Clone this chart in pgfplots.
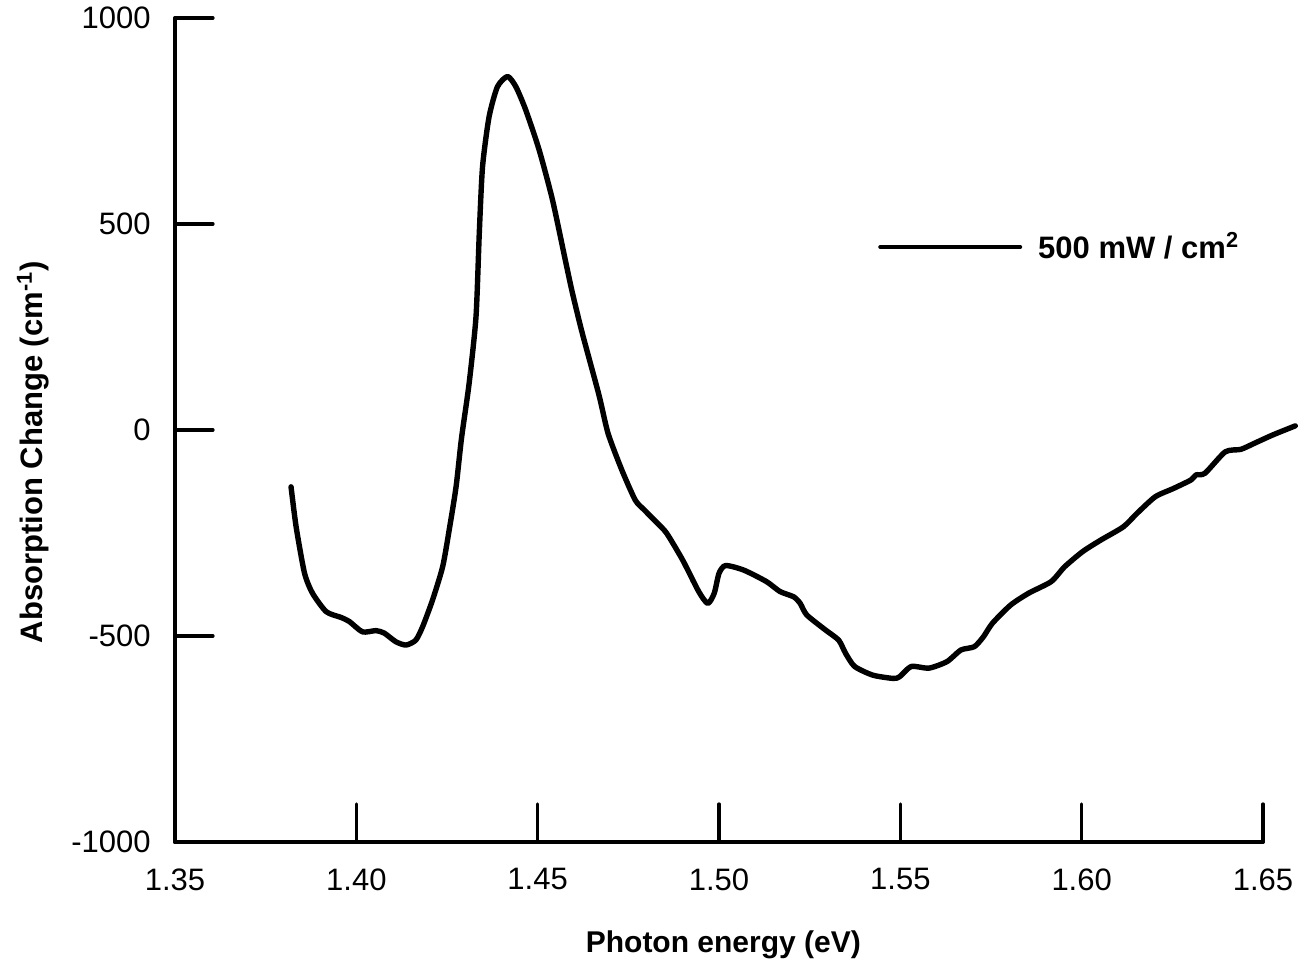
\documentclass[border=0pt]{standalone}
\usepackage{pgfplots}
\pgfplotsset{compat=1.18}
\usepackage{fontspec}
\setmainfont{Liberation Sans}
\begin{document}
\begin{tikzpicture}
\path[use as bounding box] (-87.5pt,-62.5pt) rectangle (566pt,421pt);
\begin{axis}[
  at={(0,0)}, anchor=south west,
  scale only axis, width=544pt, height=412pt,
  xmin=1.35, xmax=1.65, ymin=-1000, ymax=1000,
  clip=false,
  axis lines=left,
  axis line style={-, line width=1.9pt, line cap=round},
  tick align=inside,
  major tick length=19pt,
  tick style={black, line width=1.6pt, line cap=round},
  xtick={1.35,1.40,1.45,1.50,1.55,1.60,1.65},
  xticklabels={1.35,1.40,1.45,1.50,1.55,1.60,1.65},
  ytick={-1000,-500,0,500,1000},
  yticklabels={-1000,-500,0,500,1000},
  ticklabel style={font=\fontsize{15.5}{18}\selectfont},
  xticklabel style={anchor=north, inner sep=0pt, yshift=-13pt},
  yticklabel style={anchor=east, inner sep=0pt, xshift=-12pt},
  xlabel={Photon energy (eV)},
  ylabel={Absorption Change (cm\textsuperscript{-1})},
  xlabel style={at={(axis description cs:0.504,-0.125)}, anchor=center, font=\fontsize{15}{18}\selectfont\bfseries},
  ylabel style={at={(axis description cs:-0.1305,0.473)}, anchor=center, rotate=0, font=\fontsize{15.5}{18}\selectfont\bfseries},
  legend style={draw=none, fill=none, at={(axis description cs:0.646,0.722)}, anchor=west, inner sep=0pt, font=\fontsize{15.5}{18}\selectfont\bfseries,
    /tikz/every odd column/.append style={column sep=6pt}},
  legend cell align=left,
  legend image code/.code={\draw[#1, line width=2pt] (0pt,0pt) -- (70pt,0pt);},
]
\addplot[black, line width=2.7pt, line join=round, line cap=round, smooth, tension=0.4] coordinates {
(1.3820,-138) (1.3834,-235) (1.3857,-347) (1.3879,-396) (1.3917,-441)
(1.3958,-455) (1.3981,-465) (1.4017,-490) (1.4054,-487) (1.4077,-493)
(1.4109,-514) (1.4137,-522) (1.4164,-510) (1.4183,-477) (1.4210,-413)
(1.4238,-332) (1.4256,-243) (1.4275,-138) (1.4290,-20) (1.4311,113)
(1.4330,275) (1.4339,477) (1.4348,639) (1.4366,760) (1.4389,833)
(1.4417,858) (1.4440,833) (1.4467,777) (1.4504,680) (1.4541,558)
(1.4578,405) (1.4596,332) (1.4623,235) (1.4669,85) (1.4694,-8)
(1.4732,-97) (1.4769,-170) (1.4794,-194) (1.4831,-227) (1.4856,-251)
(1.4900,-316) (1.4944,-392) (1.4969,-421) (1.4987,-396) (1.5000,-348)
(1.5018,-329) (1.5068,-340) (1.5131,-368) (1.5168,-392) (1.5206,-405)
(1.5224,-421) (1.5242,-449) (1.5293,-485) (1.5330,-510) (1.5349,-542)
(1.5374,-574) (1.5424,-595) (1.5480,-603) (1.5498,-599) (1.5530,-574)
(1.5579,-578) (1.5629,-562) (1.5667,-534) (1.5704,-526) (1.5729,-502)
(1.5754,-469) (1.5804,-425) (1.5854,-396) (1.5916,-368) (1.5953,-332)
(1.6003,-295) (1.6053,-267) (1.6115,-235) (1.6153,-202) (1.6203,-162)
(1.6253,-142) (1.6302,-121) (1.6315,-109) (1.6340,-105) (1.6396,-53)
(1.6439,-47) (1.6477,-32) (1.6527,-12) (1.6589,10)
};
\addlegendentry{500 mW / cm\textsuperscript{2}}
\end{axis}
\end{tikzpicture}
\end{document}
